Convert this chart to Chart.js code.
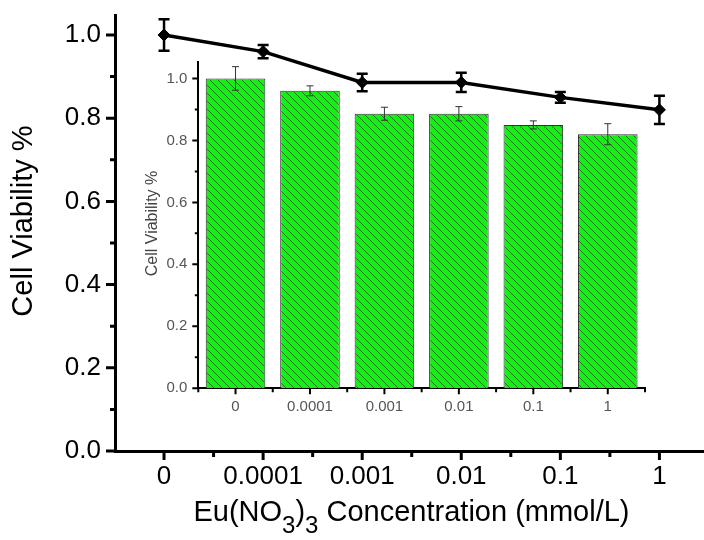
<!DOCTYPE html>
<html><head><meta charset="utf-8">
<script src="https://cdn.jsdelivr.net/npm/chart.js@4.4.1/dist/chart.umd.min.js"></script>
<style>
html,body{margin:0;padding:0;background:#fff;}
#wrap{position:relative;width:704px;height:540px;overflow:hidden;background:#fff;}
#main{position:absolute;left:0;top:0;}
#inset{position:absolute;left:140px;top:50px;}
</style></head><body>
<div id="wrap"><canvas id="main" width="704" height="540"></canvas><canvas id="inset" width="520" height="380"></canvas></div>
<script>
// ---- data ----
const categories = ['0', '0.0001', '0.001', '0.01', '0.1', '1'];
const viability = [1.0, 0.96, 0.886, 0.886, 0.85, 0.82];
const viabilityErr = [0.038, 0.016, 0.021, 0.023, 0.013, 0.034];
const yTickValues = [0, 0.2, 0.4, 0.6, 0.8, 1.0];
const yMinorValues = [0.1, 0.3, 0.5, 0.7, 0.9];
const yTitle = 'Cell Viability %';
const xTitleParts = [['Eu(NO', false], ['3', true], [')', false], ['3', true], [' Concentration (mmol/L)', false]];

const FAMILY = "'Liberation Sans', Arial, sans-serif";
Chart.defaults.font.family = FAMILY;

const errorBarPlugin = {
  id: 'errbars',
  afterDatasetsDraw(chart, args, o) {
    const ctx = chart.ctx, ys = chart.scales.y;
    chart.data.datasets.forEach((ds, di) => {
      const meta = chart.getDatasetMeta(di);
      ctx.save();
      ctx.strokeStyle = o.color; ctx.lineWidth = o.width;
      meta.data.forEach((el, i) => {
        const v = ds.values[i], e = ds.errors[i];
        const x = el.x, yT = ys.getPixelForValue(v + e), yB = ys.getPixelForValue(v - e);
        ctx.beginPath();
        ctx.moveTo(x, yT); ctx.lineTo(x, yB);
        ctx.moveTo(x - o.cap, yT); ctx.lineTo(x + o.cap, yT);
        ctx.moveTo(x - o.cap, yB); ctx.lineTo(x + o.cap, yB);
        ctx.stroke();
      });
      ctx.restore();
    });
  }
};

const tickPlugin = {
  id: 'tickmarks',
  afterDraw(chart, args, o) {
    const ctx = chart.ctx, ca = chart.chartArea, xs = chart.scales.x, ys = chart.scales.y;
    ctx.save();
    ctx.strokeStyle = '#000';
    ctx.lineWidth = o.width;
    ctx.beginPath();
    o.xMajor.forEach(v => { const p = xs.getPixelForValue(v); ctx.moveTo(p, ca.bottom); ctx.lineTo(p, ca.bottom + o.xMajorLen); });
    o.xMinor.forEach(v => { const p = xs.getPixelForValue(v); ctx.moveTo(p, ca.bottom); ctx.lineTo(p, ca.bottom + o.xMinorLen); });
    yTickValues.forEach(v => { const p = ys.getPixelForValue(v); ctx.moveTo(ca.left, p); ctx.lineTo(ca.left - o.yMajorLen, p); });
    yMinorValues.forEach(v => { const p = ys.getPixelForValue(v); ctx.moveTo(ca.left, p); ctx.lineTo(ca.left - o.yMinorLen, p); });
    ctx.stroke();
    ctx.restore();
  }
};

const titlePlugin = {
  id: 'titles',
  afterDraw(chart, args, o) {
    const ctx = chart.ctx, ca = chart.chartArea;
    ctx.save();
    // rotated y title
    ctx.fillStyle = o.yColor;
    ctx.font = o.ySize + 'px ' + FAMILY;
    ctx.textAlign = 'center'; ctx.textBaseline = 'middle';
    ctx.translate(o.yX, o.yY); ctx.rotate(-Math.PI / 2);
    ctx.fillText(yTitle, 0, 0);
    ctx.setTransform(1, 0, 0, 1, 0, 0);
    if (o.xTitle) {
      ctx.fillStyle = '#000'; ctx.textBaseline = 'alphabetic'; ctx.textAlign = 'left';
      const mf = o.xSize + 'px ' + FAMILY, sf = o.subSize + 'px ' + FAMILY;
      let total = 0;
      xTitleParts.forEach(([t, sub]) => { ctx.font = sub ? sf : mf; total += ctx.measureText(t).width; });
      let x = (ca.left + ca.right) / 2 - total / 2 + o.xShift;
      xTitleParts.forEach(([t, sub]) => {
        ctx.font = sub ? sf : mf;
        ctx.fillText(t, x, o.baseline + (sub ? o.subDrop : 0));
        x += ctx.measureText(t).width;
      });
    }
    ctx.restore();
  }
};

const idx = categories.map((c, i) => i);

// ---- main line chart ----
new Chart(document.getElementById('main'), {
  type: 'line',
  data: {
    datasets: [{
      data: viability.map((v, i) => ({ x: i, y: v })),
      values: viability, errors: viabilityErr,
      borderColor: '#000', borderWidth: 3.5, tension: 0,
      pointStyle: 'rectRot', pointRadius: 6, pointBackgroundColor: '#000', pointBorderColor: '#000', pointBorderWidth: 1
    }]
  },
  options: {
    responsive: false, animation: false, devicePixelRatio: 1,
    layout: { autoPadding: false, padding: { top: 15, left: 0, right: 0, bottom: 0 } },
    plugins: {
      legend: { display: false }, tooltip: { enabled: false },
      errbars: { color: '#000', width: 2.5, cap: 5.5 },
      tickmarks: { width: 3, xMajor: idx, xMinor: idx.slice(0, -1).map(i => i + 0.5), xMajorLen: 9, xMinorLen: 6, yMajorLen: 9, yMinorLen: 5 },
      titles: { yColor: '#000', ySize: 29, yX: 24, yY: 221, xTitle: true, xSize: 29, subSize: 24, baseline: 521, subDrop: 12, xShift: 2 }
    },
    scales: {
      x: {
        type: 'linear', min: -0.495, max: 5.45, bounds: 'data',
        afterBuildTicks(s) { s.ticks = idx.map(i => ({ value: i })); },
        ticks: { callback: v => categories[v], font: { size: 26 }, color: '#000', padding: 10, maxRotation: 0, autoSkip: false },
        grid: { display: false, drawTicks: false },
        border: { display: true, color: '#000', width: 3 },
        afterFit(s) { s.height = 89; s.paddingLeft = 0; s.paddingRight = 0; }
      },
      y: {
        min: 0, max: 1.048, bounds: 'data',
        afterBuildTicks(s) { s.ticks = yTickValues.map(v => ({ value: v })); },
        ticks: { callback: v => v.toFixed(1), font: { size: 26 }, color: '#000', padding: 14 },
        grid: { display: false, drawTicks: false },
        border: { display: true, color: '#000', width: 3 },
        afterFit(s) { s.width = 115; s.paddingTop = 0; s.paddingBottom = 0; }
      }
    }
  },
  plugins: [errorBarPlugin, tickPlugin, titlePlugin]
});

// ---- inset bar chart ----
const insetCanvas = document.getElementById('inset');
function makeHatch(ctx) {
  const c = document.createElement('canvas'); c.width = 8; c.height = 8;
  const g = c.getContext('2d');
  g.fillStyle = '#14f014'; g.fillRect(0, 0, 8, 8);
  g.strokeStyle = '#2a6a2a'; g.lineWidth = 0.9;
  g.beginPath();
  g.moveTo(-1, -1); g.lineTo(9, 9);
  g.moveTo(-1, 7); g.lineTo(1, 9);
  g.moveTo(7, -1); g.lineTo(9, 1);
  g.stroke();
  return ctx.createPattern(c, 'repeat');
}
const hatch = makeHatch(insetCanvas.getContext('2d'));

new Chart(insetCanvas, {
  type: 'bar',
  data: {
    labels: categories,
    datasets: [{
      data: viability, values: viability, errors: viabilityErr,
      backgroundColor: hatch, borderColor: '#333', borderWidth: 1,
      barPercentage: 0.8, categoryPercentage: 1.0
    }]
  },
  options: {
    responsive: false, animation: false, devicePixelRatio: 1,
    layout: { autoPadding: false, padding: { top: 11.7, right: 15, left: 0, bottom: 0 } },
    plugins: {
      legend: { display: false }, tooltip: { enabled: false },
      errbars: { color: '#333', width: 1, cap: 3.5 },
      tickmarks: { width: 2, xMajor: idx, xMinor: [-0.5].concat(idx.map(i => i + 0.5)), xMajorLen: 6, xMinorLen: 4, yMajorLen: 6, yMinorLen: 3.5 },
      titles: { yColor: '#444', ySize: 16, yX: 13, yY: 173.5, xTitle: false }
    },
    scales: {
      x: {
        ticks: { font: { size: 15 }, color: '#555', padding: 10, maxRotation: 0, autoSkip: false },
        grid: { display: false, drawTicks: false },
        border: { display: true, color: '#000', width: 2 },
        afterFit(s) { s.height = 41.7; s.paddingLeft = 0; s.paddingRight = 0; }
      },
      y: {
        min: 0, max: 1.054, bounds: 'data',
        afterBuildTicks(s) { s.ticks = yTickValues.map(v => ({ value: v })); },
        ticks: { callback: v => v.toFixed(1), font: { size: 15 }, color: '#555', padding: 11 },
        grid: { display: false, drawTicks: false },
        border: { display: true, color: '#000', width: 2 },
        afterFit(s) { s.width = 58.3; s.paddingTop = 0; s.paddingBottom = 0; }
      }
    }
  },
  plugins: [errorBarPlugin, tickPlugin, titlePlugin]
});
</script>
</body></html>
